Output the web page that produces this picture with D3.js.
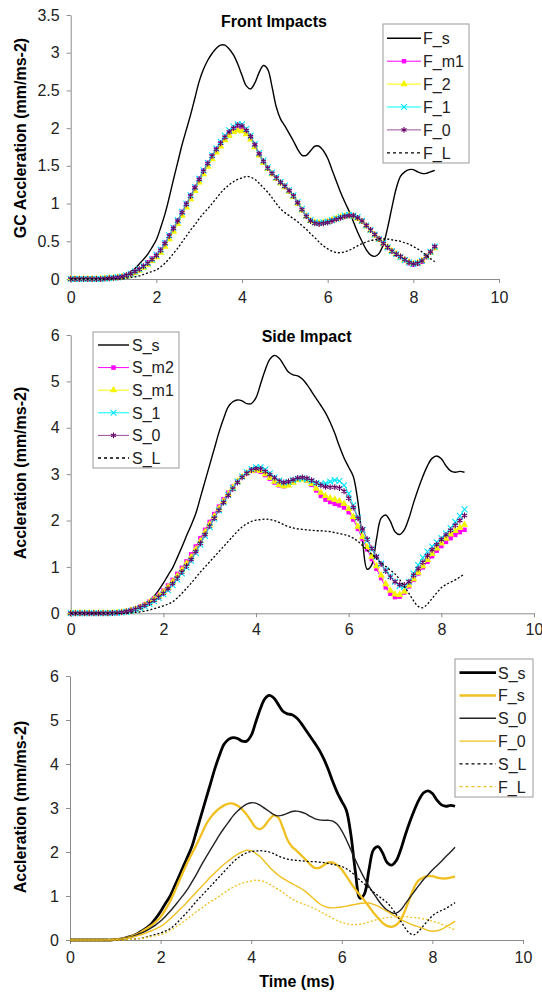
<!DOCTYPE html>
<html>
<head>
<meta charset="utf-8">
<script src="https://cdn.jsdelivr.net/npm/d3@7"></script>
<style>
body { margin: 0; background: #fff; }
svg { display: block; font-family: "Liberation Sans", Arial, sans-serif; }
.axis path, .axis line { stroke: #8c8c8c; }
.axis text { font-size: 16px; fill: #222; font-family: "Liberation Sans", Arial, sans-serif; }
</style>
</head>
<body>
<svg id="chart" width="542" height="992"></svg>
<script>
// time grid (ms), one sample every 0.1 ms from 0 to 8.5
var time = d3.range(0, 8.55, 0.1);
var xTicks = [0, 2, 4, 6, 8, 10];
var yTicksFront = [0, 0.5, 1, 1.5, 2, 2.5, 3, 3.5];
var yTicksSide = [0, 1, 2, 3, 4, 5, 6];

// front impacts
var fS = [0,0,0,0,0,0,0,0,0,0,
  0.01,0.02,0.04,0.06,0.1,0.14,0.2,0.26,0.33,0.42,
  0.52,0.68,0.86,1.08,1.32,1.55,1.78,1.98,2.18,2.4,
  2.62,2.78,2.9,2.99,3.06,3.1,3.1,3.05,2.97,2.85,
  2.7,2.56,2.52,2.6,2.74,2.83,2.78,2.55,2.28,2.12,
  2.03,1.93,1.83,1.72,1.64,1.64,1.7,1.76,1.76,1.7,
  1.6,1.45,1.3,1.15,1.02,0.9,0.76,0.62,0.5,0.39,
  0.32,0.3,0.34,0.46,0.68,0.95,1.2,1.36,1.42,1.45,
  1.45,1.42,1.4,1.4,1.42,1.44];
var fM1 = [0,0,0,0,0,0,0,0,0.005,0.01,
  0.015,0.02,0.03,0.05,0.07,0.1,0.13,0.17,0.22,0.27,
  0.32,0.39,0.48,0.58,0.68,0.78,0.89,1.0,1.11,1.22,
  1.33,1.44,1.54,1.63,1.72,1.8,1.87,1.94,1.99,2.02,
  2.01,1.95,1.87,1.76,1.65,1.55,1.47,1.4,1.34,1.28,
  1.23,1.17,1.1,1.01,0.92,0.84,0.78,0.75,0.74,0.75,
  0.76,0.78,0.8,0.82,0.83,0.84,0.84,0.81,0.77,0.71,
  0.65,0.59,0.53,0.47,0.42,0.37,0.33,0.29,0.25,0.21,
  0.19,0.2,0.23,0.29,0.35,0.42];
var f2 = [0,0,0,0,0,0,0,0,0.005,0.01,
  0.013,0.018,0.026,0.04,0.06,0.08,0.11,0.15,0.19,0.24,
  0.29,0.35,0.43,0.53,0.63,0.73,0.84,0.95,1.06,1.17,
  1.28,1.39,1.49,1.59,1.68,1.76,1.84,1.9,1.95,1.97,
  1.96,1.92,1.85,1.75,1.64,1.54,1.46,1.39,1.33,1.27,
  1.22,1.16,1.09,1.0,0.91,0.83,0.77,0.75,0.74,0.75,
  0.76,0.78,0.8,0.82,0.83,0.84,0.83,0.8,0.76,0.7,
  0.64,0.58,0.52,0.47,0.42,0.37,0.33,0.29,0.25,0.22,
  0.2,0.21,0.24,0.29,0.35,0.41];
var f1 = [0,0,0,0,0,0,0,0,0.005,0.01,
  0.016,0.022,0.032,0.05,0.07,0.1,0.13,0.17,0.21,0.26,
  0.32,0.39,0.48,0.58,0.68,0.78,0.89,1.0,1.11,1.22,
  1.33,1.44,1.54,1.64,1.73,1.82,1.9,1.97,2.02,2.05,
  2.05,1.99,1.9,1.79,1.67,1.57,1.48,1.41,1.35,1.29,
  1.24,1.18,1.11,1.02,0.93,0.84,0.78,0.75,0.74,0.75,
  0.76,0.78,0.8,0.82,0.84,0.85,0.84,0.82,0.77,0.71,
  0.65,0.59,0.53,0.48,0.42,0.37,0.33,0.29,0.25,0.22,
  0.2,0.21,0.24,0.3,0.36,0.43];
var f0 = [0,0,0,0,0,0,0,0,0.005,0.01,
  0.015,0.02,0.03,0.05,0.07,0.1,0.13,0.17,0.21,0.26,
  0.31,0.38,0.47,0.57,0.67,0.77,0.88,0.99,1.1,1.21,
  1.32,1.43,1.53,1.63,1.72,1.8,1.88,1.95,2.0,2.04,
  2.03,1.97,1.89,1.78,1.66,1.56,1.47,1.4,1.34,1.28,
  1.23,1.17,1.1,1.01,0.92,0.83,0.77,0.74,0.73,0.74,
  0.75,0.77,0.79,0.81,0.83,0.84,0.84,0.81,0.77,0.71,
  0.65,0.59,0.53,0.47,0.42,0.37,0.33,0.3,0.26,0.22,
  0.2,0.21,0.24,0.3,0.36,0.43];
var fL = [0,0,0,0,0,0,0,0,0,0,
  0,0,0,0.01,0.02,0.03,0.04,0.06,0.08,0.1,
  0.12,0.16,0.21,0.27,0.34,0.41,0.49,0.57,0.65,0.72,
  0.8,0.87,0.93,1.0,1.07,1.14,1.2,1.25,1.29,1.32,
  1.34,1.36,1.35,1.32,1.27,1.21,1.15,1.08,1.0,0.93,
  0.88,0.84,0.8,0.76,0.71,0.66,0.6,0.55,0.49,0.44,
  0.4,0.37,0.35,0.35,0.36,0.38,0.41,0.44,0.47,0.49,
  0.51,0.52,0.53,0.53,0.53,0.52,0.51,0.5,0.48,0.46,
  0.43,0.4,0.36,0.32,0.27,0.23];

// side impacts
var sS = [0,0,0,0,0,0,0,0,0,0,
  0.01,0.02,0.04,0.07,0.1,0.15,0.21,0.28,0.37,0.5,
  0.65,0.82,0.98,1.2,1.43,1.67,1.9,2.15,2.5,2.85,
  3.2,3.55,3.9,4.2,4.45,4.56,4.6,4.58,4.52,4.52,
  4.65,4.95,5.25,5.48,5.56,5.5,5.35,5.2,5.14,5.12,
  5.05,4.93,4.78,4.63,4.48,4.32,4.12,3.88,3.6,3.35,
  3.15,2.95,2.4,1.55,0.95,1.05,1.6,2.05,2.12,1.98,
  1.76,1.7,1.8,2.05,2.38,2.68,2.95,3.18,3.34,3.39,
  3.33,3.18,3.07,3.04,3.06,3.04];
var sM2 = [0,0,0,0,0,0,0,0,0,0.005,
  0.01,0.02,0.04,0.07,0.1,0.14,0.19,0.25,0.32,0.4,
  0.49,0.6,0.72,0.85,0.98,1.12,1.27,1.44,1.62,1.8,
  1.97,2.14,2.3,2.46,2.6,2.73,2.85,2.95,3.02,3.07,
  3.08,3.05,2.98,2.9,2.82,2.76,2.74,2.77,2.83,2.88,
  2.9,2.86,2.77,2.65,2.53,2.45,2.4,2.36,2.33,2.28,
  2.18,2.02,1.82,1.6,1.38,1.17,0.96,0.76,0.56,0.42,
  0.35,0.36,0.45,0.58,0.72,0.86,0.99,1.11,1.23,1.35,
  1.45,1.54,1.62,1.69,1.75,1.8];
var sM1 = [0,0,0,0,0,0,0,0,0,0.005,
  0.01,0.02,0.04,0.06,0.09,0.13,0.18,0.23,0.3,0.37,
  0.46,0.56,0.68,0.8,0.93,1.07,1.21,1.38,1.56,1.75,
  1.92,2.09,2.26,2.42,2.57,2.71,2.84,2.94,3.02,3.07,
  3.09,3.07,3.0,2.92,2.84,2.77,2.74,2.76,2.82,2.87,
  2.89,2.86,2.79,2.69,2.6,2.53,2.48,2.45,2.42,2.36,
  2.25,2.08,1.87,1.65,1.43,1.22,1.02,0.82,0.63,0.49,
  0.41,0.4,0.47,0.6,0.74,0.88,1.02,1.15,1.28,1.4,
  1.51,1.61,1.7,1.78,1.85,1.91];
var s1 = [0,0,0,0,0,0,0,0,0,0.005,
  0.01,0.02,0.03,0.05,0.08,0.11,0.15,0.2,0.26,0.33,
  0.41,0.5,0.61,0.73,0.86,0.99,1.13,1.3,1.48,1.67,
  1.86,2.04,2.22,2.39,2.55,2.7,2.84,2.95,3.04,3.11,
  3.15,3.15,3.1,3.02,2.93,2.86,2.82,2.83,2.87,2.9,
  2.91,2.89,2.85,2.81,2.79,2.8,2.84,2.87,2.85,2.76,
  2.58,2.33,2.06,1.8,1.57,1.38,1.22,1.07,0.93,0.8,
  0.68,0.59,0.57,0.68,0.86,1.04,1.2,1.33,1.44,1.53,
  1.62,1.72,1.84,1.97,2.1,2.24];
var s0 = [0,0,0,0,0,0,0,0,0,0.005,
  0.01,0.02,0.04,0.06,0.09,0.13,0.17,0.22,0.28,0.35,
  0.43,0.53,0.64,0.76,0.89,1.02,1.16,1.33,1.51,1.7,
  1.88,2.05,2.22,2.39,2.54,2.68,2.82,2.93,3.02,3.09,
  3.12,3.11,3.06,2.99,2.92,2.85,2.82,2.84,2.88,2.92,
  2.93,2.91,2.87,2.81,2.76,2.73,2.72,2.72,2.7,2.63,
  2.48,2.28,2.05,1.82,1.6,1.4,1.22,1.06,0.91,0.78,
  0.68,0.62,0.61,0.68,0.82,0.96,1.1,1.24,1.37,1.48,
  1.59,1.69,1.79,1.9,2.0,2.11];
var sL = [0,0,0,0,0,0,0,0,0,0,
  0,0,0,0.01,0.02,0.03,0.05,0.07,0.1,0.13,
  0.16,0.2,0.25,0.33,0.43,0.54,0.65,0.77,0.89,1.0,
  1.11,1.22,1.33,1.44,1.55,1.66,1.77,1.86,1.93,1.98,
  2.01,2.02,2.03,2.02,2.0,1.96,1.91,1.87,1.84,1.82,
  1.81,1.8,1.79,1.78,1.78,1.77,1.76,1.74,1.72,1.7,
  1.67,1.62,1.55,1.46,1.36,1.27,1.18,1.09,1.01,0.93,
  0.85,0.73,0.58,0.43,0.27,0.15,0.12,0.2,0.32,0.44,
  0.55,0.62,0.67,0.72,0.78,0.85];

var gold = "#f0c020";
var symAst = d3.symbolAsterisk || d3.symbolCross;
var symX = d3.symbolTimes || d3.symbolCross;

var panels = [
  {
    title: "Front Impacts", titleX: 274, titleY: 26.5,
    yLabel: "GC Accleration (mm/ms-2)", yLabelY: 138,
    left: 70.7, right: 499, top: 15, bottom: 279, yMax: 3.5, yTicks: yTicksFront, xPad: 9,
    legend: {x: 383, y: 24, w: 86, h: 139, lx0: 387, lx1: 421, tx: 423, r0: 38.3, dr: 22.9},
    series: [
      {name: "F_s", values: fS, color: "#000", width: 1.4},
      {name: "F_m1", values: fM1, color: "#ff00ff", width: 1, marker: {type: d3.symbolSquare, size: 20, fill: "#ff00ff"}},
      {name: "F_2", values: f2, color: "#ffff00", width: 1, marker: {type: d3.symbolTriangle, size: 24, fill: "#f5f500"}},
      {name: "F_1", values: f1, color: "#00ffff", width: 1, marker: {type: symX, size: 24, stroke: "#00e5ff"}},
      {name: "F_0", values: f0, color: "#9b4f9b", width: 1, marker: {type: symAst, size: 24, stroke: "#660066"}},
      {name: "F_L", values: fL, color: "#000", width: 1.3, dash: "2,2"}
    ]
  },
  {
    title: "Side Impact", titleX: 306.6, titleY: 341.5,
    yLabel: "Accleration (mm/ms-2)", yLabelY: 473,
    left: 70.7, right: 534, top: 335, bottom: 613.3, yMax: 6, yTicks: yTicksSide, xPad: 6,
    legend: {x: 93, y: 332, w: 86, h: 136, lx0: 98, lx1: 129, tx: 132, r0: 345, dr: 22.6},
    series: [
      {name: "S_s", values: sS, color: "#000", width: 1.4},
      {name: "S_m2", values: sM2, color: "#ff00ff", width: 1, marker: {type: d3.symbolSquare, size: 20, fill: "#ff00ff"}},
      {name: "S_m1", values: sM1, color: "#ffff00", width: 1, marker: {type: d3.symbolTriangle, size: 24, fill: "#f5f500"}},
      {name: "S_1", values: s1, color: "#00ffff", width: 1, marker: {type: symX, size: 24, stroke: "#00e5ff"}},
      {name: "S_0", values: s0, color: "#9b4f9b", width: 1, marker: {type: symAst, size: 24, stroke: "#660066"}},
      {name: "S_L", values: sL, color: "#000", width: 1.3, dash: "2,2"}
    ]
  },
  {
    yLabel: "Accleration (mm/ms-2)", yLabelY: 807, xLabel: "Time (ms)",
    left: 70, right: 523, top: 676, bottom: 940, yMax: 6, yTicks: yTicksSide, xPad: 8,
    legend: {x: 455, y: 659, w: 78, h: 138, lx0: 459.5, lx1: 496, tx: 498, r0: 672.7, dr: 22.8},
    series: [
      {name: "S_s", values: sS, color: "#000", width: 2.8},
      {name: "F_s", values: fS, color: gold, width: 2.3},
      {name: "S_0", values: s0, color: "#222", width: 1.4},
      {name: "F_0", values: f0, color: gold, width: 1.4},
      {name: "S_L", values: sL, color: "#000", width: 1.3, dash: "2,2"},
      {name: "F_L", values: fL, color: gold, width: 1.3, dash: "2,2"}
    ]
  }
];

var svg = d3.select("#chart");

function drawMarker(sel, m) {
  sel.attr("d", d3.symbol(m.type, m.size))
    .attr("fill", m.fill || "none")
    .attr("stroke", m.stroke || "none")
    .attr("stroke-width", m.stroke ? 1.1 : 0);
}

function drawPanel(p) {
  var x = d3.scaleLinear().domain([0, 10]).range([p.left, p.right]);
  var y = d3.scaleLinear().domain([0, p.yMax]).range([p.bottom, p.top]);
  var g = svg.append("g");

  g.append("g")
    .attr("class", "axis")
    .attr("transform", "translate(0," + p.bottom + ")")
    .call(d3.axisBottom(x).tickValues(xTicks).tickSize(4).tickSizeOuter(0)
      .tickPadding(p.xPad).tickFormat(d3.format("")));

  g.append("g")
    .attr("class", "axis")
    .attr("transform", "translate(" + p.left + ",0)")
    .call(d3.axisLeft(y).tickValues(p.yTicks).tickSize(4).tickSizeOuter(0)
      .tickPadding(7).tickFormat(d3.format("")));

  var line = d3.line()
    .x(function(d, i) { return x(time[i]); })
    .y(function(d) { return y(d); })
    .curve(d3.curveCatmullRom.alpha(0.5));

  p.series.forEach(function(s) {
    g.append("path")
      .attr("d", line(s.values))
      .attr("fill", "none")
      .attr("stroke", s.color)
      .attr("stroke-width", s.width)
      .attr("stroke-linejoin", "round")
      .attr("stroke-dasharray", s.dash || null);
    if (s.marker) {
      g.append("g").selectAll("path")
        .data(s.values)
        .join("path")
        .attr("transform", function(d, i) { return "translate(" + x(time[i]) + "," + y(d) + ")"; })
        .call(drawMarker, s.marker);
    }
  });

  if (p.title) {
    g.append("text")
      .attr("x", p.titleX).attr("y", p.titleY)
      .attr("text-anchor", "middle")
      .style("font-size", "16px").style("font-weight", "bold")
      .text(p.title);
  }

  g.append("text")
    .attr("transform", "translate(20," + p.yLabelY + ") rotate(-90)")
    .attr("text-anchor", "middle")
    .attr("dy", "0.35em")
    .style("font-size", "16px").style("font-weight", "bold")
    .text(p.yLabel);

  if (p.xLabel) {
    g.append("text")
      .attr("x", (p.left + p.right) / 2 + 0.5).attr("y", 987)
      .attr("text-anchor", "middle")
      .style("font-size", "16px").style("font-weight", "bold")
      .text(p.xLabel);
  }

  // legend
  var L = p.legend;
  var lg = g.append("g");
  lg.append("rect")
    .attr("x", L.x).attr("y", L.y).attr("width", L.w).attr("height", L.h)
    .attr("fill", "#fff").attr("stroke", "#9a9a9a");
  p.series.forEach(function(s, i) {
    var cy = L.r0 + i * L.dr;
    lg.append("line")
      .attr("x1", L.lx0).attr("x2", L.lx1).attr("y1", cy).attr("y2", cy)
      .attr("stroke", s.color).attr("stroke-width", s.width)
      .attr("stroke-dasharray", s.dash ? "3,3" : null);
    if (s.marker) {
      lg.append("path")
        .attr("transform", "translate(" + ((L.lx0 + L.lx1) / 2) + "," + cy + ")")
        .call(drawMarker, s.marker);
    }
    lg.append("text")
      .attr("x", L.tx).attr("y", cy + 5.8)
      .style("font-size", "16px").attr("fill", "#222")
      .text(s.name);
  });
}

panels.forEach(drawPanel);
</script>
</body>
</html>
